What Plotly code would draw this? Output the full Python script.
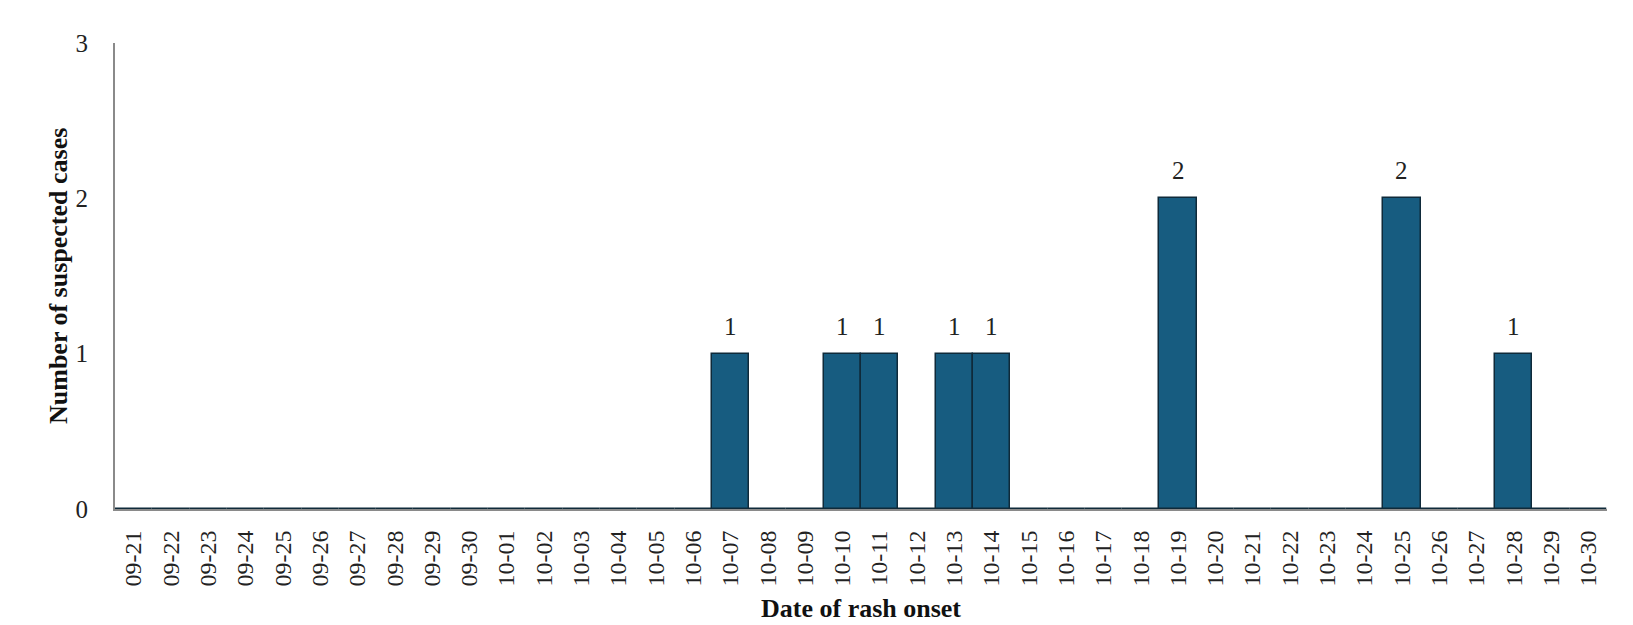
import plotly.graph_objects as go

dates = ["09-21","09-22","09-23","09-24","09-25","09-26","09-27","09-28","09-29","09-30",
         "10-01","10-02","10-03","10-04","10-05","10-06","10-07","10-08","10-09","10-10",
         "10-11","10-12","10-13","10-14","10-15","10-16","10-17","10-18","10-19","10-20",
         "10-21","10-22","10-23","10-24","10-25","10-26","10-27","10-28","10-29","10-30"]
cases = [0,0,0,0,0,0,0,0,0,0,
         0,0,0,0,0,0,1,0,0,1,
         1,0,1,1,0,0,0,0,2,0,
         0,0,0,0,2,0,0,1,0,0]
y_ticks = [0, 1, 2, 3]
x_title = "Date of rash onset"
y_title = "Number of suspected cases"

FONT = "Liberation Serif, Times New Roman, serif"

fig = go.Figure()
fig.add_trace(go.Bar(
    x=dates, y=cases,
    marker=dict(color="#175c80", line=dict(color="#0f2a3a", width=1.5)),
    hoverinfo="x+y",
))

for d, c in zip(dates, cases):
    if c > 0:
        fig.add_annotation(x=d, y=c, text=str(c), showarrow=False,
                           yanchor="bottom", yshift=12,
                           font=dict(family=FONT, size=25, color="#222"))

# axis titles
fig.add_annotation(x=0.5, xref="paper", y=-0.0, yref="paper", yshift=-99,
                   text="<b>%s</b>" % x_title, showarrow=False,
                   xanchor="center", yanchor="middle",
                   font=dict(family=FONT, size=26, color="#111"))
fig.add_annotation(x=0, xref="paper", xshift=-57, y=0.5, yref="paper",
                   text="<b>%s</b>" % y_title, showarrow=False, textangle=-90,
                   xanchor="center", yanchor="middle",
                   font=dict(family=FONT, size=26, color="#111"))

fig.update_layout(
    width=1633, height=625,
    margin=dict(l=107, r=34, t=35, b=124),
    paper_bgcolor="white", plot_bgcolor="white",
    bargap=0,
    showlegend=False,
    font=dict(family=FONT, color="#222"),
)
fig.update_xaxes(
    type="category", range=[-0.5, 39.5], automargin=False,
    tickangle=-90, tickfont=dict(family=FONT, size=24, color="#222"),
    showline=True, linecolor="#8a8a8a", linewidth=2,
    showgrid=False, ticks="", ticklabelstandoff=10,
)
fig.update_yaxes(
    range=[0, 3], tickvals=y_ticks, automargin=False,
    tickfont=dict(family=FONT, size=25, color="#222"),
    showline=True, linecolor="#8a8a8a", linewidth=2,
    showgrid=False, zeroline=False, ticks="", ticklabelstandoff=20,
)

fig.write_html("out.html")
